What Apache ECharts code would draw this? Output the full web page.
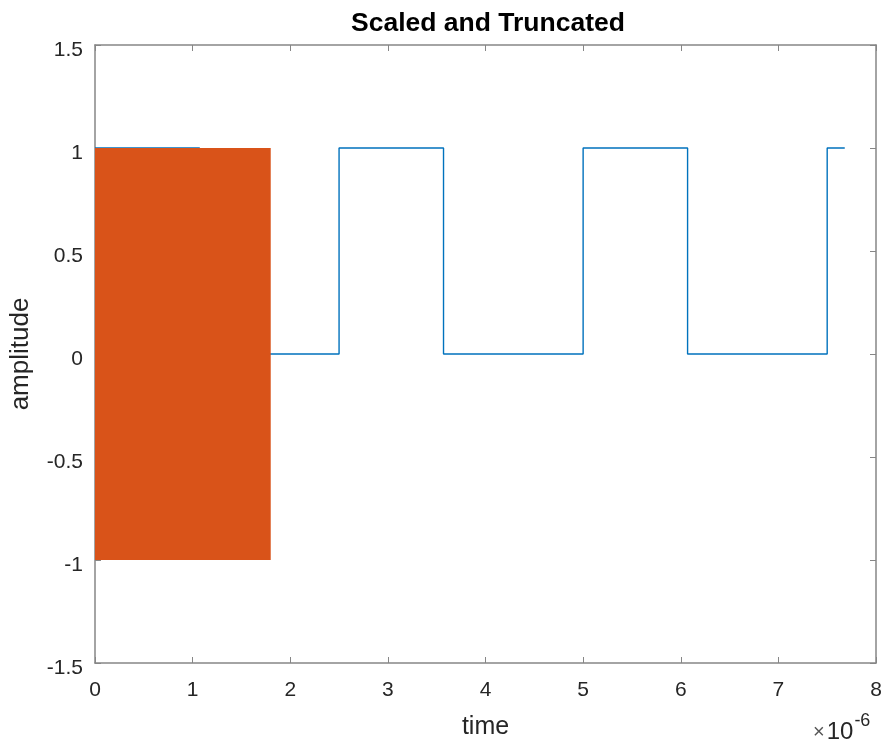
<!DOCTYPE html>
<html>
<head>
<meta charset="utf-8">
<script src="https://cdn.jsdelivr.net/npm/echarts@6/dist/echarts.min.js"></script>
<style>html,body{margin:0;padding:0;background:#fff}#c{width:885px;height:742px}</style>
</head>
<body>
<div id="c"></div>
<script>
// time values in units of 1e-6 s
const xTicks = [0, 1, 2, 3, 4, 5, 6, 7, 8];
const yTicks = [-1.5, -1, -0.5, 0, 0.5, 1, 1.5];
const blueTimes  = [0, 1.07, 1.07, 2.5, 2.5, 3.57, 3.57, 5.0, 5.0, 6.07, 6.07, 7.5, 7.5, 7.68];
const blueValues = [1, 1,    0,    0,   1,   1,    0,    0,   1,   1,    0,    0,   1,   1];
const orangeTimes = [0, 1.8];
const orangeTop = [1, 1];
const orangeBottom = -1;

const blueData = blueTimes.map((t, i) => [t, blueValues[i]]);
const orangeData = orangeTimes.map((t, i) => [t, orangeTop[i]]);

const axisGrey = '#868686';
const textCol = '#262626';
const font = 'Liberation Sans, Arial, sans-serif';

const chart = echarts.init(document.getElementById('c'));
chart.setOption({
  animation: false,
  backgroundColor: '#fff',
  title: {
    text: 'Scaled and Truncated', left: 483, top: 5, textAlign: 'center',
    textStyle: { fontFamily: font, fontSize: 26.5, fontWeight: 'bold', color: '#000' }
  },
  grid: { left: 95, right: 9, top: 45, bottom: 79, containLabel: false, outerBoundsMode: 'none' },
  xAxis: [{
    type: 'value', min: 0, max: 8, interval: 1,
    name: 'time', nameLocation: 'middle', nameGap: 52,
    nameTextStyle: { fontFamily: font, fontSize: 25, color: textCol },
    axisLine: { show: true, onZero: false, lineStyle: { color: axisGrey, width: 1.5 } },
    axisTick: { show: true, inside: true, length: 6, lineStyle: { color: axisGrey } },
    axisLabel: { fontFamily: font, fontSize: 21, color: textCol, margin: 17, formatter: v => String(v) },
    splitLine: { show: false }
  }, {
    type: 'value', position: 'top', min: 0, max: 8, interval: 1,
    axisLine: { show: true, onZero: false, lineStyle: { color: axisGrey, width: 1.5 } },
    axisTick: { show: true, inside: true, length: 6, lineStyle: { color: axisGrey } },
    axisLabel: { show: false }, splitLine: { show: false }
  }],
  yAxis: [{
    type: 'value', min: -1.5, max: 1.5, interval: 0.5,
    name: 'amplitude', nameLocation: 'middle', nameGap: 61, nameRotate: 90,
    nameTextStyle: { fontFamily: font, fontSize: 26, color: textCol },
    axisLine: { show: true, onZero: false, lineStyle: { color: axisGrey, width: 1.5 } },
    axisTick: { show: true, inside: true, length: 6, lineStyle: { color: axisGrey } },
    axisLabel: { fontFamily: font, fontSize: 21, color: textCol, margin: 12, verticalAlign: 'top', lineHeight: 10, formatter: v => String(v) },
    splitLine: { show: false }
  }, {
    type: 'value', position: 'right', min: -1.5, max: 1.5, interval: 0.5,
    axisLine: { show: true, onZero: false, lineStyle: { color: axisGrey, width: 1.5 } },
    axisTick: { show: true, inside: true, length: 6, lineStyle: { color: axisGrey } },
    axisLabel: { show: false }, splitLine: { show: false }
  }],
  graphic: [{
    type: 'text', left: 813, top: 712,
    style: {
      text: '{a|×}{b|10}{c|-6}', fontFamily: font,
      rich: {
        a: { fontSize: 20, fill: '#555', fontFamily: font, padding: [10, 2, 0, 0] },
        b: { fontSize: 24, fill: textCol, fontFamily: font, padding: [10, 0, 0, 0] },
        c: { fontSize: 18, fill: textCol, fontFamily: font, padding: [0, 0, 12, 1] }
      }
    }
  }],
  series: [{
    type: 'line', data: blueData, showSymbol: false, z: 2,
    lineStyle: { color: '#0072BD', width: 1.4 }
  }, {
    type: 'line', data: orangeData, showSymbol: false, z: 3,
    lineStyle: { width: 0 },
    areaStyle: { color: '#D95319', opacity: 1, origin: orangeBottom }
  }]
});
</script>
</body>
</html>
